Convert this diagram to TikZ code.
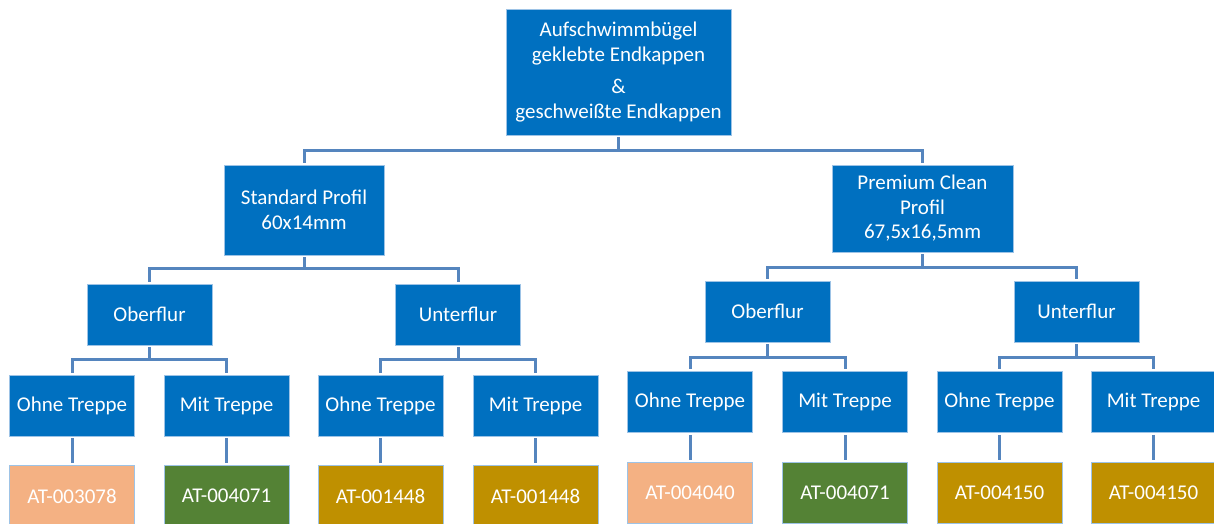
\documentclass[tikz,border=0pt]{standalone}
\usepackage{fontspec}
\setmainfont{Carlito}
\usetikzlibrary{positioning}
\definecolor{boxblue}{HTML}{0070C0}
\definecolor{boxedge}{HTML}{9DC3E6}
\definecolor{linkblue}{HTML}{5585BE}
\definecolor{peach}{HTML}{F4B183}
\definecolor{leafgreen}{HTML}{548235}
\definecolor{gold}{HTML}{BF9000}

\begin{document}
\begin{tikzpicture}[x=1pt,y=-1pt,node distance=29pt,
  box/.style={draw=boxedge,line width=0.6pt,fill=boxblue,text=white,align=center,
    inner sep=0pt,font=\fontsize{21}{24.5}\selectfont},
  small/.style={box,minimum width=125,minimum height=61},
  code/.style={small,fill=#1},
  link/.style={draw=linkblue,line width=3pt,shorten <=2pt,shorten >=2pt}]
  \useasboundingbox (0,0) rectangle (1214,523);
  % top
  \node[box,minimum width=225,minimum height=126](root) at (618.5,72)
    {Aufschwimmbügel\\geklebte Endkappen\\[8pt]\&\\geschweißte Endkappen};
  \node[box,minimum width=160,minimum height=90](std) at (304,210) {Standard Profil\\60x14mm};
  \node[box,minimum width=181,minimum height=87](prem) at (922.5,208.5) {Premium Clean\\Profil\\67,5x16,5mm};
  % floors
  \node[small](stdober) at (149.5,314.5) {Oberflur};
  \node[small](stdunter) at (458,314.5) {Unterflur};
  \node[small](premober) at (767.5,311.5) {Oberflur};
  \node[small](premunter) at (1076.5,311.5) {Unterflur};
  % stairs
  \node[small](so1) at (72,405.5) {Ohne Treppe};
  \node[small](so2) at (226.5,405.5) {Mit Treppe};
  \node[small](su1) at (380.5,405.5) {Ohne Treppe};
  \node[small](su2) at (535.5,405.5) {Mit Treppe};
  \node[small](po1) at (690,402) {Ohne Treppe};
  \node[small](po2) at (845,402) {Mit Treppe};
  \node[small](pu1) at (999.5,402) {Ohne Treppe};
  \node[small](pu2) at (1153.5,402) {Mit Treppe};
  % article numbers
  \node[code=peach,below=of so1](at1) {AT-003078};
  \node[code=leafgreen,below=of so2](at2) {AT-004071};
  \node[code=gold,below=of su1](at3) {AT-001448};
  \node[code=gold,below=of su2](at4) {AT-001448};
  \node[code=peach,below=of po1](at5) {AT-004040};
  \node[code=leafgreen,below=of po2](at6) {AT-004071};
  \node[code=gold,below=of pu1](at7) {AT-004150};
  \node[code=gold,below=of pu2](at8) {AT-004150};
  % links
  \draw[link] (root.south) -- ++(0,15) -| (std.north);
  \draw[link] (root.south) -- ++(0,15) -| (prem.north);
  \draw[link] (std.south) -- ++(0,13) -| (stdober.north);
  \draw[link] (std.south) -- ++(0,13) -| (stdunter.north);
  \draw[link] (prem.south) -- ++(0,15) -| (premober.north);
  \draw[link] (prem.south) -- ++(0,15) -| (premunter.north);
  \draw[link] (stdober.south) -- ++(0,14) -| (so1.north);
  \draw[link] (stdober.south) -- ++(0,14) -| (so2.north);
  \draw[link] (stdunter.south) -- ++(0,14) -| (su1.north);
  \draw[link] (stdunter.south) -- ++(0,14) -| (su2.north);
  \draw[link] (premober.south) -- ++(0,15) -| (po1.north);
  \draw[link] (premober.south) -- ++(0,15) -| (po2.north);
  \draw[link] (premunter.south) -- ++(0,15) -| (pu1.north);
  \draw[link] (premunter.south) -- ++(0,15) -| (pu2.north);
  \draw[link] (so1)--(at1);
  \draw[link] (so2)--(at2);
  \draw[link] (su1)--(at3);
  \draw[link] (su2)--(at4);
  \draw[link] (po1)--(at5);
  \draw[link] (po2)--(at6);
  \draw[link] (pu1)--(at7);
  \draw[link] (pu2)--(at8);
\end{tikzpicture}
\end{document}
